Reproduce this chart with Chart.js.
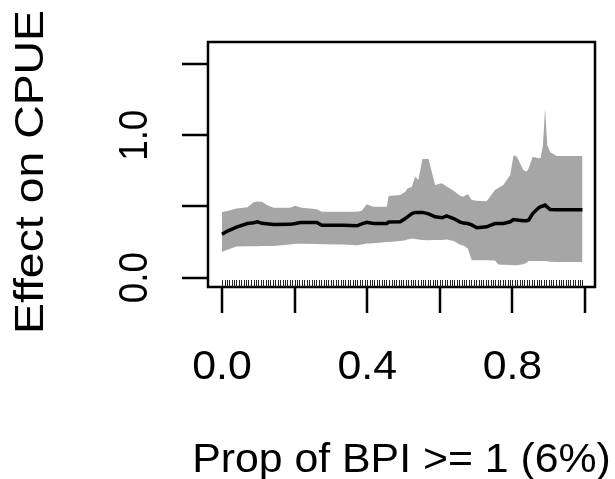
<!DOCTYPE html>
<html>
<head>
<meta charset="utf-8">
<script src="https://cdn.jsdelivr.net/npm/chart.js@4/dist/chart.umd.min.js"></script>
<style>
  body { margin: 0; background: #fff; }
</style>
</head>
<body>
<canvas id="myChart" width="615" height="479"></canvas>
<script>
// predictor values (x) and partial effect with its band
const xGrid = [0.000, 0.015, 0.040, 0.070, 0.087, 0.098, 0.110, 0.124, 0.142, 0.188,
  0.202, 0.216, 0.261, 0.275, 0.335, 0.372, 0.385, 0.399, 0.417, 0.454,
  0.459, 0.491, 0.505, 0.511, 0.523, 0.532, 0.541, 0.552, 0.569, 0.587,
  0.606, 0.619, 0.638, 0.656, 0.665, 0.677, 0.688, 0.702, 0.729, 0.752,
  0.761, 0.775, 0.794, 0.803, 0.812, 0.830, 0.839, 0.845, 0.856, 0.872,
  0.878, 0.884, 0.890, 0.896, 0.904, 0.922, 0.993];
const meanEffect = [0.305, 0.327, 0.355, 0.380, 0.385, 0.392, 0.381, 0.378, 0.373, 0.374,
  0.380, 0.387, 0.387, 0.368, 0.368, 0.364, 0.378, 0.389, 0.380, 0.380,
  0.390, 0.392, 0.415, 0.427, 0.450, 0.458, 0.458, 0.458, 0.448, 0.427,
  0.420, 0.434, 0.415, 0.390, 0.383, 0.380, 0.370, 0.350, 0.357, 0.380,
  0.380, 0.380, 0.392, 0.408, 0.405, 0.399, 0.400, 0.405, 0.450, 0.490,
  0.498, 0.503, 0.509, 0.495, 0.479, 0.476, 0.476];
const upperBand = [0.460, 0.468, 0.485, 0.495, 0.530, 0.535, 0.532, 0.510, 0.490, 0.490,
  0.504, 0.492, 0.481, 0.462, 0.462, 0.462, 0.470, 0.516, 0.497, 0.497,
  0.573, 0.580, 0.603, 0.626, 0.638, 0.709, 0.685, 0.833, 0.833, 0.650,
  0.662, 0.640, 0.610, 0.575, 0.568, 0.587, 0.545, 0.540, 0.537, 0.615,
  0.630, 0.650, 0.720, 0.858, 0.850, 0.756, 0.744, 0.770, 0.849, 0.838,
  0.840, 0.930, 1.190, 0.930, 0.880, 0.854, 0.854];
const lowerBand = [0.180, 0.196, 0.218, 0.220, 0.220, 0.221, 0.222, 0.222, 0.222, 0.233,
  0.238, 0.238, 0.236, 0.235, 0.232, 0.227, 0.232, 0.239, 0.242, 0.250,
  0.250, 0.258, 0.263, 0.268, 0.274, 0.272, 0.268, 0.264, 0.263, 0.265,
  0.265, 0.267, 0.258, 0.230, 0.225, 0.205, 0.122, 0.122, 0.122, 0.120,
  0.092, 0.090, 0.088, 0.087, 0.087, 0.093, 0.105, 0.117, 0.117, 0.117,
  0.117, 0.117, 0.117, 0.115, 0.112, 0.110, 0.110];

// observed predictor values (rug)
const rugX = [0.000, 0.007, 0.013, 0.020, 0.027, 0.033, 0.040, 0.047, 0.053, 0.060, 0.067, 0.073, 0.080, 0.087, 0.093,
  0.100, 0.107, 0.113, 0.120, 0.127, 0.133, 0.140, 0.147, 0.153, 0.160, 0.167, 0.173, 0.180, 0.187, 0.193,
  0.200, 0.207, 0.213, 0.220, 0.227, 0.233, 0.240, 0.247, 0.253, 0.260, 0.267, 0.273, 0.280, 0.287, 0.293,
  0.300, 0.307, 0.313, 0.320, 0.327, 0.333, 0.340, 0.347, 0.353, 0.360, 0.367, 0.373, 0.380, 0.387, 0.393,
  0.400, 0.407, 0.413, 0.420, 0.427, 0.433, 0.440, 0.447, 0.453, 0.460, 0.467, 0.473, 0.480, 0.487, 0.493,
  0.500, 0.507, 0.513, 0.520, 0.527, 0.533, 0.540, 0.547, 0.553, 0.560, 0.567, 0.573, 0.580, 0.587, 0.593,
  0.600, 0.607, 0.613, 0.620, 0.627, 0.633, 0.640, 0.647, 0.653, 0.660, 0.667, 0.673, 0.680, 0.687, 0.693,
  0.700, 0.707, 0.713, 0.720, 0.727, 0.733, 0.740, 0.747, 0.753, 0.760, 0.767, 0.773, 0.780, 0.787, 0.793,
  0.800, 0.807, 0.813, 0.820, 0.827, 0.833, 0.840, 0.847, 0.853, 0.860, 0.867, 0.873, 0.880, 0.887, 0.893,
  0.900, 0.907, 0.913, 0.920, 0.927, 0.933, 0.940, 0.947, 0.953, 0.960, 0.967, 0.973, 0.980, 0.987, 0.993];

// axis ticks and labels
const xTickValues = [0, 0.2, 0.4, 0.6, 0.8, 1.0];
const xTickLabels = ['0.0', '', '0.4', '', '0.8', ''];
const yTickValues = [0, 0.5, 1.0, 1.5];
const yTickLabels = ['0.0', '', '1.0', ''];
const xTitle = 'Prop of BPI >= 1 (6%)';
const yTitle = 'Effect on CPUE';

const toPts = ys => xGrid.map((x, i) => ({ x: x, y: ys[i] }));

// text stretched along its direction to match the R output
function drawText(c, txt, x, y, rot, sx) {
    c.save();
    c.translate(x, y);
    c.rotate(rot);
    c.scale(sx, 1);
    c.fillText(txt, 0, 0);
    c.restore();
}

// R style box, detached ticks, rug and labels
const rAxes = {
    id: 'rAxes',
    afterDraw(chart) {
        const c = chart.ctx;
        const a = chart.chartArea;
        const xs = chart.scales.x, ys = chart.scales.y;
        c.save();
        c.strokeStyle = '#000';
        c.lineWidth = 2.5;
        c.strokeRect(a.left, a.top, a.right - a.left, a.bottom - a.top);

        c.beginPath();
        yTickValues.forEach(v => {
            const py = Math.round(ys.getPixelForValue(v));
            c.moveTo(a.left - 26, py);
            c.lineTo(a.left, py);
        });
        xTickValues.forEach(v => {
            const px = Math.round(xs.getPixelForValue(v));
            c.moveTo(px, a.bottom);
            c.lineTo(px, a.bottom + 26);
        });
        c.stroke();

        // rug
        c.lineWidth = 1;
        c.strokeStyle = '#222';
        c.beginPath();
        rugX.forEach(v => {
            const px = Math.round(xs.getPixelForValue(v)) + 0.5;
            c.moveTo(px, a.bottom);
            c.lineTo(px, a.bottom - 7);
        });
        c.stroke();

        c.fillStyle = '#000';
        c.font = '40px "Liberation Sans", Arial, sans-serif';
        c.textAlign = 'center';
        c.textBaseline = 'alphabetic';
        xTickValues.forEach((v, i) => {
            if (xTickLabels[i]) drawText(c, xTickLabels[i], xs.getPixelForValue(v), 379, 0, 1.07);
        });
        yTickValues.forEach((v, i) => {
            if (yTickLabels[i]) drawText(c, yTickLabels[i], 147, ys.getPixelForValue(v), -Math.PI / 2, 0.92);
        });
        drawText(c, xTitle, (a.left + a.right) / 2, 472, 0, 1.07);
        drawText(c, yTitle, 43, 172, -Math.PI / 2, 1.16);
        c.restore();
    }
};

const ctx = document.getElementById('myChart').getContext('2d');

const config = {
    type: 'line',
    data: {
        datasets: [
            {
                label: 'effect',
                data: toPts(meanEffect),
                borderColor: '#000',
                borderWidth: 3.5,
                pointRadius: 0,
                fill: false
            },
            {
                label: 'upper',
                data: toPts(upperBand),
                borderWidth: 0,
                borderColor: 'rgba(0,0,0,0)',
                pointRadius: 0,
                backgroundColor: '#a6a6a6',
                fill: '+1'
            },
            {
                label: 'lower',
                data: toPts(lowerBand),
                borderWidth: 0,
                borderColor: 'rgba(0,0,0,0)',
                pointRadius: 0,
                fill: false
            }
        ]
    },
    options: {
        responsive: false,
        animation: false,
        layout: { padding: { left: 208, right: 20, top: 42, bottom: 192 } },
        plugins: {
            legend: { display: false },
            tooltip: { enabled: false }
        },
        scales: {
            x: { type: 'linear', min: -0.0385, max: 1.0275, display: false },
            y: { type: 'linear', min: -0.066, max: 1.655, display: false }
        }
    },
    plugins: [rAxes]
};

const myChart = new Chart(ctx, config);
</script>
</body>
</html>
